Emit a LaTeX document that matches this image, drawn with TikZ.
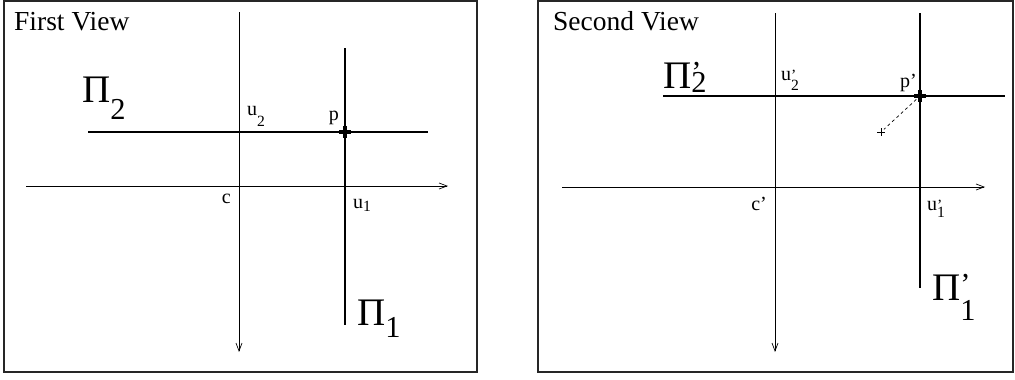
\documentclass[tikz,border=0pt]{standalone}
\usepackage{fontspec}
\setmainfont{Liberation Serif}
\usetikzlibrary{arrows.meta}

\newcommand{\bajo}[2]{\raisebox{-#1}{\scalebox{0.78}{#2}}}
\newcommand{\primabajo}[3]{\rlap{\raisebox{#1}{\scalebox{0.78}{'}}}\raisebox{-#2}{\scalebox{0.78}{#3}}}

\begin{document}
\begin{tikzpicture}[x=1pt,y=-1pt,
  every node/.style={inner sep=0pt, anchor=base west},
  marco/.style={line width=1.2pt, black!85},
  eje/.style={line width=0.7pt, -{Straight Barb[length=8pt,width=6pt]}},
  plano/.style={line width=1.4pt},
  punto/.style={line width=3.6pt},
  cruz/.style={line width=0.6pt},
  guion/.style={line width=0.7pt, dash pattern=on 3pt off 3pt, shorten <=5pt, shorten >=4pt},
  titulo/.style={font=\fontsize{27.5}{31}\selectfont},
  etiq/.style={font=\fontsize{20}{24}\selectfont},
  grande/.style={font=\fontsize{39}{44}\selectfont}]
\useasboundingbox (0,0) rectangle (1015,380);
\draw[marco] (4,1) rectangle (477,372);
\draw[marco] (538,1) rectangle (1013,372);

\coordinate (arr1) at (239,12);  \coordinate (aba1) at (239,352);
\coordinate (izq1) at (26,186);  \coordinate (der1) at (448,186);
\coordinate (pi2a) at (88,132);  \coordinate (pi2b) at (428,132);
\coordinate (pi1a) at (345,48);  \coordinate (pi1b) at (345,325);
\coordinate (p) at (345,132);
\draw[eje] (arr1) -- (aba1);
\draw[eje] (izq1) -- (der1);
\draw[plano] (pi2a) -- (pi2b);
\draw[plano] (pi1a) -- (pi1b);
\draw[punto] (p) +(-6,0) -- +(6,0) +(0,-6) -- +(0,6);
\node[titulo] (t1) at (14,30) {First View};
\node[grande] (lpi2) at (82,102) {Π\bajo{17pt}{2}};
\node[grande] (lpi1) at (357,325) {Π\bajo{12pt}{1}};
\node[etiq] (lu2) at (247,115) {u\bajo{11pt}{2}};
\node[etiq] (lu1) at (353,208) {u\bajo{3pt}{1}};
\node[etiq, anchor=base east] (lp) at (339,120) {p};
\node[etiq, anchor=base east] (lc) at (231,203) {c};

\coordinate (arr2) at (775,13);  \coordinate (aba2) at (775,352);
\coordinate (izq2) at (562,187); \coordinate (der2) at (985,187);
\coordinate (qi2a) at (663,96);  \coordinate (qi2b) at (1005,96);
\coordinate (qi1a) at (920,13);  \coordinate (qi1b) at (920,288);
\coordinate (pp) at (920,96);
\coordinate (x) at (881,132);
\draw[eje] (arr2) -- (aba2);
\draw[eje] (izq2) -- (der2);
\draw[plano] (qi2a) -- (qi2b);
\draw[plano] (qi1a) -- (qi1b);
\draw[punto] (pp) +(-6,0) -- +(6,0) +(0,-6) -- +(0,6);
\draw[cruz] (x) +(-4,0) -- +(4,0) +(0,-4) -- +(0,4);
\draw[guion] (pp) -- (x);
\node[titulo] (t2) at (553,30) {Second View};
\node[grande] (lqi2) at (663,88) {Π\primabajo{6pt}{4pt}{2}};
\node[grande] (lqi1) at (932,300) {Π\primabajo{6pt}{20pt}{1}};
\node[etiq] (lq2) at (781,80) {u\primabajo{0pt}{10pt}{2}};
\node[etiq] (lq1) at (927,210) {u\primabajo{0pt}{7pt}{1}};
\node[etiq, anchor=base east] (lpp) at (917,87) {p'};
\node[etiq, anchor=base east] (lcc) at (767,210) {c'};
\end{tikzpicture}
\end{document}
